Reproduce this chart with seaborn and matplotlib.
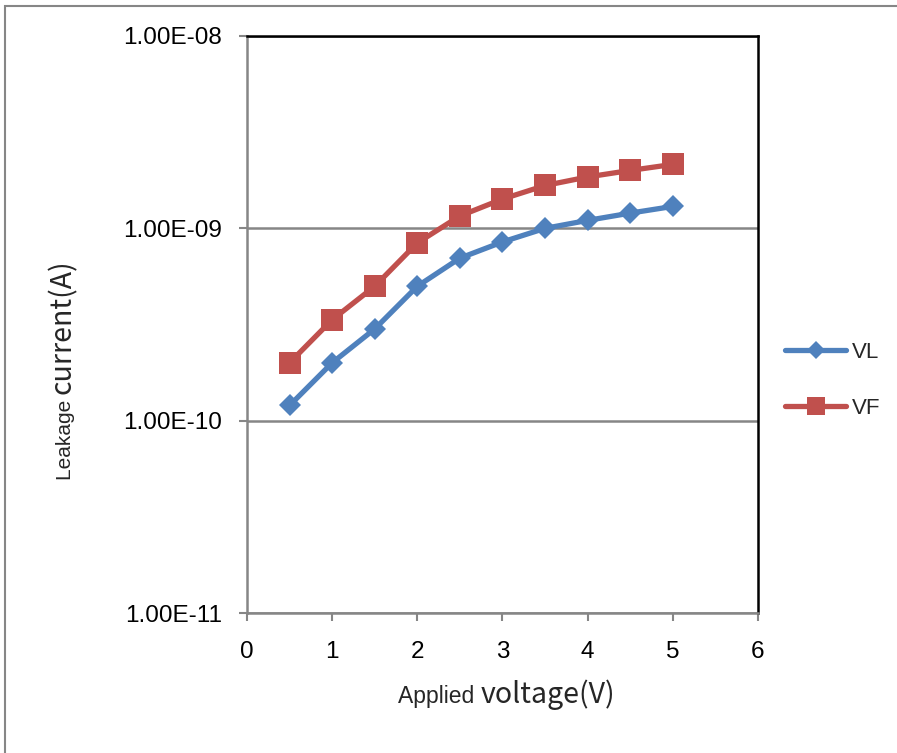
import matplotlib
matplotlib.use("Agg")
import matplotlib.pyplot as plt
import seaborn as sns
import pandas as pd
from matplotlib.patches import Rectangle
from matplotlib.lines import Line2D

voltage = [0.5, 1.0, 1.5, 2.0, 2.5, 3.0, 3.5, 4.0, 4.5, 5.0]
vl_current = [1.2e-10, 2.0e-10, 3.0e-10, 5.0e-10, 7.0e-10, 8.5e-10, 1.0e-9, 1.1e-9, 1.2e-9, 1.3e-9]
vf_current = [2.0e-10, 3.35e-10, 5.0e-10, 8.4e-10, 1.16e-9, 1.42e-9, 1.67e-9, 1.85e-9, 2.0e-9, 2.15e-9]
series_names = ["VL", "VF"]
y_ticks = [1e-11, 1e-10, 1e-9, 1e-8]
y_tick_labels = ["1.00E-11", "1.00E-10", "1.00E-09", "1.00E-08"]
x_ticks = [0, 1, 2, 3, 4, 5, 6]

df = pd.DataFrame({
    "voltage": voltage * 2,
    "current": vl_current + vf_current,
    "series": [series_names[0]] * len(voltage) + [series_names[1]] * len(voltage),
})

sns.set_theme(style="white")
plt.rcParams["font.family"] = ["Liberation Sans", "DejaVu Sans"]

fig = plt.figure(figsize=(8.97, 7.53), dpi=100)
ax = fig.add_axes([0.2754, 0.1859, 0.8450 - 0.2754, 0.9522 - 0.1859])

colors = {"VL": "#4F81BD", "VF": "#C0504D"}
markers = {"VL": "D", "VF": "s"}
sizes = {"VL": 11.5, "VF": 15.5}

for name in series_names:
    sub = df[df["series"] == name]
    sns.lineplot(data=sub, x="voltage", y="current", ax=ax, color=colors[name],
                 marker=markers[name], markersize=sizes[name], markeredgewidth=0,
                 linewidth=3.8, legend=False, zorder=3)

ax.set_yscale("log")
ax.set_ylim(1e-11, 1e-8)
ax.set_xlim(0, 6)
ax.set_yticks(y_ticks)
ax.set_yticklabels(y_tick_labels)
ax.minorticks_off()
ax.set_xticks(x_ticks)
ax.set_xticklabels([str(t) for t in x_ticks])
ax.tick_params(axis="both", left=True, bottom=True, labelsize=17.5, colors="#868686",
               labelcolor="black", direction="out", length=6, width=1.5)
ax.tick_params(axis="y", pad=12)
ax.tick_params(axis="x", pad=14)

ax.yaxis.grid(True, color="#868686", linewidth=1.8)
ax.xaxis.grid(False)
ax.set_axisbelow(True)

for side in ["left", "bottom"]:
    ax.spines[side].set_color("#868686")
    ax.spines[side].set_linewidth(1.8)
for side in ["top", "right"]:
    ax.spines[side].set_color("black")
    ax.spines[side].set_linewidth(1.8)

ax.set_xlabel("")
ax.set_ylabel("")

# Axis titles: each in two runs with different fonts, laid end to end
renderer = fig.canvas.get_renderer()
fw, fh = fig.bbox.width, fig.bbox.height

xl_x, xl_y = 0.4437, 0.066
xl1 = fig.text(xl_x, xl_y, "Applied ", fontsize=16.5, ha="left", va="baseline")
w1 = xl1.get_window_extent(renderer).width
fig.text(xl_x + w1 / fw, xl_y, "voltage(V)", fontsize=20.5, ha="left", va="baseline",
         family=["Noto Sans CJK JP", "DejaVu Sans"])

yl_x, yl_y = 0.079, 0.3625
yl1 = fig.text(yl_x, yl_y, "Leakage ", fontsize=15, rotation=90, rotation_mode="anchor",
               ha="left", va="baseline")
h1 = yl1.get_window_extent(renderer).height
fig.text(yl_x, yl_y + h1 / fh, "current(A)", fontsize=20.5, rotation=90,
         rotation_mode="anchor", ha="left", va="baseline",
         family=["Noto Sans CJK JP", "DejaVu Sans"])

handles = [Line2D([], [], color=colors[n], marker=markers[n], linewidth=3.8,
                  markersize=sizes[n] - 2, markeredgewidth=0) for n in series_names]
fig.legend(handles, series_names, loc="center left", bbox_to_anchor=(0.853, 0.4947),
           frameon=False, fontsize=16, handlelength=2.75, handletextpad=0.25,
           labelspacing=1.6)

# chart area border
fig.add_artist(Rectangle((5 / 897, -0.01), 1.0, 1 - 6 / 753 + 0.01, transform=fig.transFigure,
                         fill=False, edgecolor="#868686", linewidth=1.5))

fig.savefig("out.png", dpi=100)
